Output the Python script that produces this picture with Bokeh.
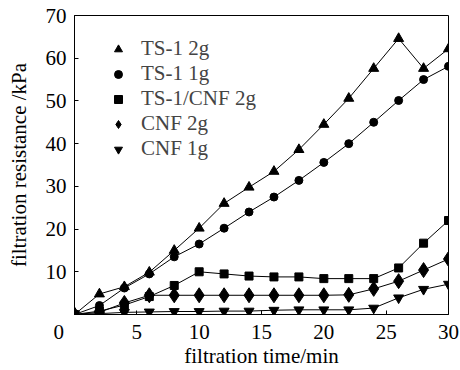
from bokeh.plotting import figure
from bokeh.models import Legend, LegendItem, FixedTicker
from bokeh.embed import file_html
from bokeh.resources import INLINE

time_min = [0, 2, 4, 6, 8, 10, 12, 14, 16, 18, 20, 22, 24, 26, 28, 30]
ts1_2g = [0, 4.8, 6.5, 9.9, 15.0, 20.2, 26.0, 29.8, 33.5, 38.6, 44.5, 50.6, 57.6, 64.6, 57.6, 62.2]
ts1_1g = [0, 2.1, 6.2, 9.5, 13.5, 16.5, 20.2, 24.0, 27.5, 31.4, 35.6, 40.0, 45.0, 50.1, 55.0, 58.1]
ts1_cnf_2g = [0, 0.8, 2.2, 4.2, 6.8, 10.0, 9.5, 9.0, 8.8, 8.8, 8.4, 8.4, 8.4, 10.9, 16.7, 22.0]
cnf_2g = [0, 0.5, 2.7, 4.5, 4.5, 4.5, 4.5, 4.5, 4.5, 4.5, 4.5, 4.6, 6.0, 7.8, 10.4, 13.0]
cnf_1g = [0, 0.2, 0.5, 0.6, 0.7, 0.7, 0.8, 0.8, 1.0, 1.1, 1.1, 1.1, 1.5, 3.9, 5.9, 7.1]

series_names = ["TS-1 2g", "TS-1 1g", "TS-1/CNF 2g", "CNF 2g", "CNF 1g"]
series_values = [ts1_2g, ts1_1g, ts1_cnf_2g, cnf_2g, cnf_1g]
markers = ["triangle", "circle", "square", "diamond", "inverted_triangle"]
sizes = [10, 8, 8, 15, 10]

x_ticks = [0, 5, 10, 15, 20, 25, 30]
y_ticks = [10, 20, 30, 40, 50, 60, 70]

FONT = "Liberation Serif"
FS = "21px"

p = figure(width=460, height=370, output_backend="svg", toolbar_location=None,
           x_range=(0, 30), y_range=(0, 70),
           min_border_left=74, min_border_right=12, min_border_top=15, min_border_bottom=56)
p.xgrid.visible = False
p.ygrid.visible = False
p.outline_line_color = "black"
p.outline_line_width = 1
p.background_fill_color = "white"
p.border_fill_color = "white"

for ax in (p.xaxis[0], p.yaxis[0]):
    ax.axis_line_color = "black"
    ax.major_tick_in = 4
    ax.major_tick_out = 0
    ax.minor_tick_in = 0
    ax.minor_tick_out = 0
    ax.major_label_text_font = FONT
    ax.major_label_text_font_size = FS
    ax.major_label_text_color = "black"
    ax.axis_label_text_font = FONT
    ax.axis_label_text_font_size = FS
    ax.axis_label_text_font_style = "normal"
    ax.axis_label_text_color = "black"

p.xaxis.ticker = FixedTicker(ticks=x_ticks)
p.yaxis.ticker = FixedTicker(ticks=y_ticks)
# shift the origin label "0" to the left with trailing no-break spaces
p.xaxis.major_label_overrides = {0: "0" + "\u00a0" * 6}
p.xaxis.axis_label = "filtration time/min"
p.yaxis.axis_label = "filtration resistance /kPa"
p.xaxis.major_label_standoff = 5
p.yaxis.major_label_standoff = 8
p.xaxis.axis_label_standoff = -3
p.yaxis.axis_label_standoff = 12

items = []
for name, vals, mk, sz in zip(series_names, series_values, markers, sizes):
    p.line(time_min, vals, line_color="black", line_width=1)
    r = p.scatter(time_min, vals, marker=mk, size=sz, fill_color="black", line_color="black")
    items.append(LegendItem(label=name, renderers=[r]))

legend = Legend(items=items, location="top_left", margin=21, padding=0,
                glyph_width=46, glyph_height=20, label_standoff=0, spacing=-1,
                label_text_font=FONT, label_text_font_size=FS,
                border_line_color=None, background_fill_alpha=0)
p.add_layout(legend, "center")

open("out.html", "w").write(file_html(p, INLINE))
